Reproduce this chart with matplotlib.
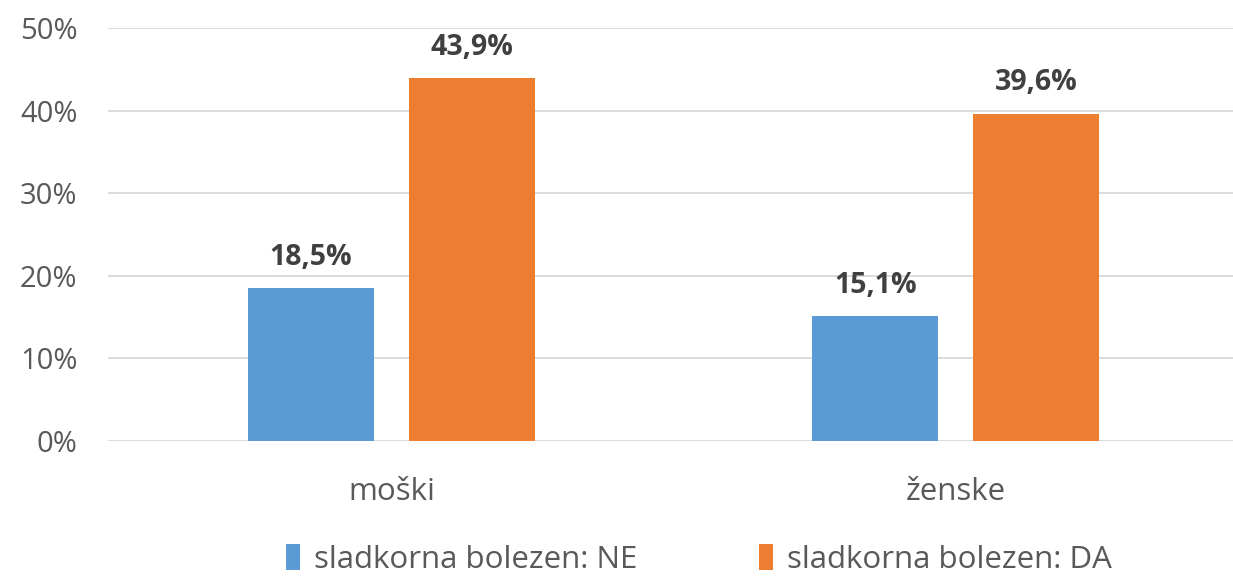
import matplotlib
matplotlib.use("Agg")
import matplotlib.pyplot as plt
import numpy as np
from matplotlib.patches import Patch

categories = ["moški", "ženske"]
series_names = ["sladkorna bolezen: NE", "sladkorna bolezen: DA"]
values_ne = [0.185, 0.151]
values_da = [0.439, 0.396]
labels_ne = ["18,5%", "15,1%"]
labels_da = ["43,9%", "39,6%"]
yticks = [0, 0.1, 0.2, 0.3, 0.4, 0.5]
ytick_labels = ["0%", "10%", "20%", "30%", "40%", "50%"]
colors = ["#5B9BD5", "#ED7D31"]

plt.rcParams['font.family'] = ['Open Sans', 'DejaVu Sans']

fig = plt.figure(figsize=(12.33, 5.77), dpi=100)
ax = fig.add_axes([0.0876, 0.2357, 0.9124, 0.7158])

x = np.arange(len(categories))
w = 0.223
off = 0.1426
b1 = ax.bar(x - off, values_ne, w, color=colors[0], zorder=3)
b2 = ax.bar(x + off, values_da, w, color=colors[1], zorder=3)

for bars, labs in ((b1, labels_ne), (b2, labels_da)):
    for r, lab in zip(bars, labs):
        ax.annotate(lab, (r.get_x() + r.get_width() / 2, r.get_height()),
                    xytext=(0, 12), textcoords="offset points",
                    ha="center", va="bottom", fontsize=20.5, fontweight="bold",
                    color="#404040")

ax.set_xlim(-0.502, 1.491)
ax.set_ylim(0, 0.5)
ax.set_yticks(yticks)
ax.set_yticklabels(ytick_labels, fontsize=21, color="#595959")
ax.set_xticks(x)
ax.set_xticklabels(categories, fontsize=22.5, color="#595959")
ax.tick_params(axis="y", length=0, pad=22)
ax.tick_params(axis="x", length=0, pad=26)
ax.grid(axis="y", color="#D9D9D9", linewidth=1.3, zorder=0)
for s in ax.spines.values():
    s.set_visible(False)

handles = [Patch(facecolor=c) for c in colors]
fig.legend(handles, series_names, loc="center", bbox_to_anchor=(0.567, 0.03),
           ncol=2, frameon=False, fontsize=22.5, handlelength=0.45, handleheight=0.9,
           handletextpad=0.45, columnspacing=3.9, labelcolor="#595959")

fig.savefig("out.png", dpi=100)
